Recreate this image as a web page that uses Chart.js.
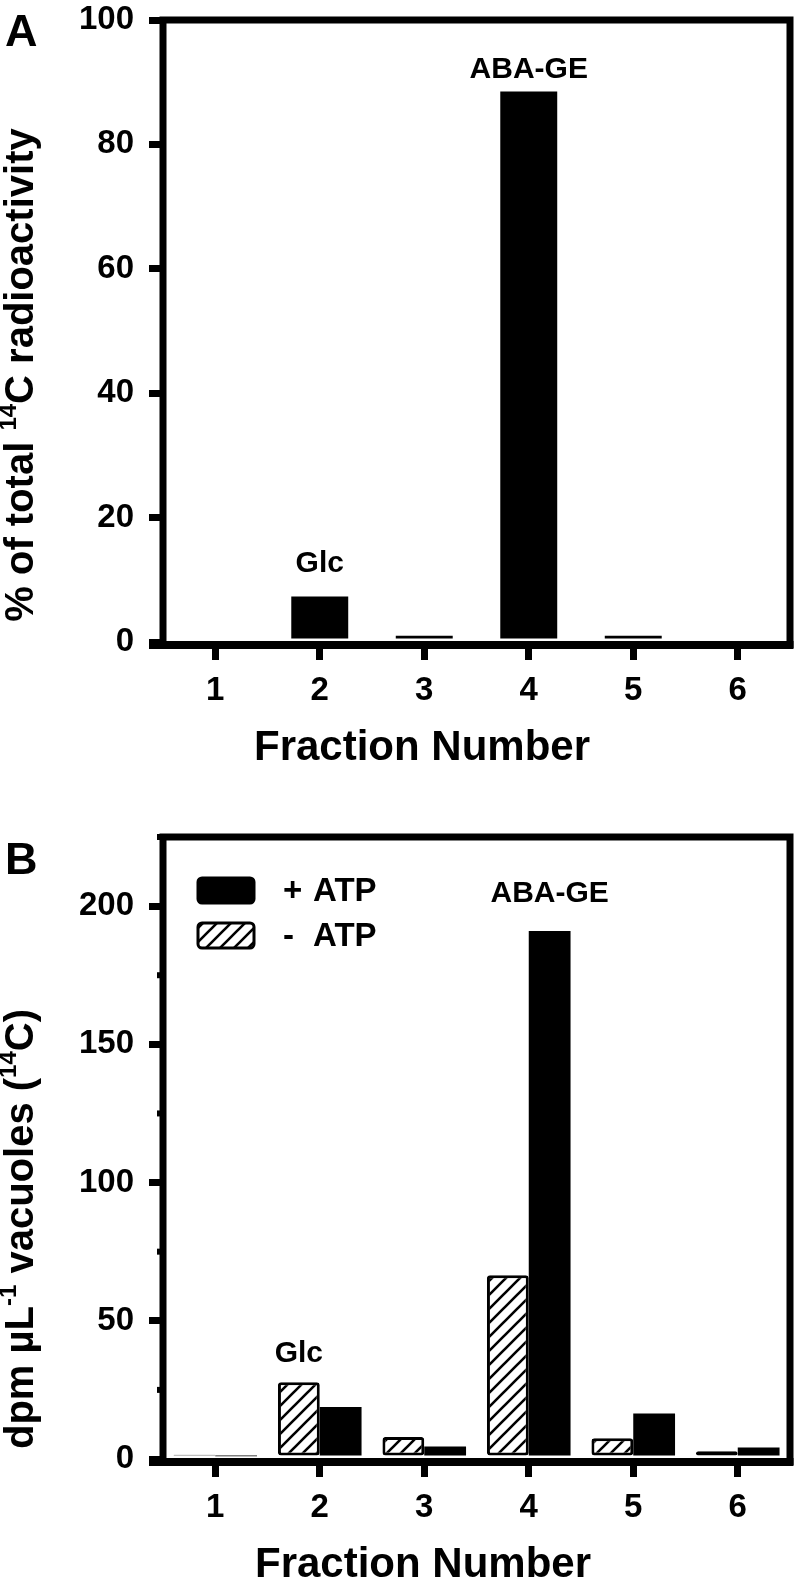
<!DOCTYPE html>
<html>
<head>
<meta charset="utf-8">
<script src="https://cdn.jsdelivr.net/npm/chart.js@4.4.1/dist/chart.umd.min.js"></script>
<style>
  html, body { margin: 0; padding: 0; background: #fff; }
  .wrap { position: absolute; left: 0; width: 798px; }
  #wrapA { top: 0; height: 790px; }
  #wrapB { top: 790px; height: 792px; }
</style>
</head>
<body>
<div class="wrap" id="wrapA"><canvas id="chartA"></canvas></div>
<div class="wrap" id="wrapB"><canvas id="chartB"></canvas></div>
<script>
// data
const fractions = ['1', '2', '3', '4', '5', '6'];
const totalPct = [0, 7.3, 1.0, 88.5, 1.0, 0];      // panel A, % of total 14C
const minusATP = [1.5, 27.8, 8.0, 66.5, 7.5, 2.8]; // panel B, hatched
const plusATP = [1.0, 18.8, 4.5, 191, 16.5, 4.2];  // panel B, black
const ticksA = [0, 20, 40, 60, 80, 100];
const ticksB = [0, 50, 100, 150, 200];
const minorB = [25, 75, 125, 175, 225];

const FONT = '"Liberation Sans", Arial, sans-serif';
const tickFont = { family: FONT, size: 33, weight: 'bold', lineHeight: 1 };

function hatchPattern(ctx) {
  const s = 14;
  const c = document.createElement('canvas');
  c.width = c.height = s;
  const g = c.getContext('2d');
  g.fillStyle = '#fff';
  g.fillRect(0, 0, s, s);
  g.strokeStyle = '#000';
  g.lineWidth = 2.6;
  g.beginPath();
  g.moveTo(-2, s + 2); g.lineTo(s + 2, -2);
  g.moveTo(-2, 2); g.lineTo(2, -2);
  g.moveTo(s - 2, s + 2); g.lineTo(s + 2, s - 2);
  g.stroke();
  return ctx.createPattern(c, 'repeat');
}

// draws text made of normal and superscript parts, centred on (0,0)
function richText(ctx, parts, size) {
  const supSize = Math.round(size * 0.6);
  let w = 0;
  parts.forEach(p => {
    ctx.font = 'bold ' + (p.sup ? supSize : size) + 'px ' + FONT;
    p.w = ctx.measureText(p.t).width;
    w += p.w;
  });
  let x = -w / 2;
  ctx.textAlign = 'left';
  ctx.textBaseline = 'middle';
  parts.forEach(p => {
    ctx.font = 'bold ' + (p.sup ? supSize : size) + 'px ' + FONT;
    ctx.fillText(p.t, x, p.sup ? -size * 0.32 : 0);
    x += p.w;
  });
}

const decor = {
  id: 'decor',
  afterDraw(chart, args, o) {
    const ctx = chart.ctx;
    const { left, top, right } = chart.chartArea;
    const ys = chart.scales.y;
    const zero = ys.getPixelForValue(0);
    ctx.save();
    ctx.strokeStyle = '#000';
    ctx.fillStyle = '#000';
    ctx.lineWidth = 7;
    ctx.beginPath();
    ctx.moveTo(left, top - 3.5); ctx.lineTo(left, zero + 6);
    ctx.moveTo(left, top); ctx.lineTo(right + 3.5, top);
    ctx.moveTo(right, top); ctx.lineTo(right, zero + 6);
    ctx.stroke();
    ctx.lineWidth = 8;
    ctx.beginPath();
    ctx.moveTo(left - 14, zero + 3); ctx.lineTo(right + 3.5, zero + 3);
    ctx.stroke();

    ctx.lineWidth = 6;
    (o.minor || []).forEach(v => {
      const py = ys.getPixelForValue(v);
      ctx.beginPath();
      ctx.moveTo(left - 6, py); ctx.lineTo(left, py);
      ctx.stroke();
    });

    // panel letter
    ctx.font = 'bold 45px ' + FONT;
    ctx.textAlign = 'left';
    ctx.textBaseline = 'alphabetic';
    ctx.fillText(o.letter, 5, o.letterY);

    // axis titles
    ctx.save();
    ctx.translate(o.xTitle[0], o.xTitle[1]);
    richText(ctx, [{ t: 'Fraction Number' }], 42);
    ctx.restore();
    ctx.save();
    ctx.translate(o.yTitle[0], o.yTitle[1]);
    ctx.rotate(-Math.PI / 2);
    richText(ctx, o.yTitleParts, 40);
    ctx.restore();

    // peak labels
    ctx.font = 'bold 30px ' + FONT;
    ctx.textAlign = 'center';
    ctx.textBaseline = 'alphabetic';
    o.notes.forEach(n => {
      const bar = chart.getDatasetMeta(n.ds).data[n.i];
      ctx.fillText(n.text, bar.x, ys.getPixelForValue(n.y));
    });

    // legend
    if (o.legend) {
      const lx = left + 35, ly = top + 41;
      o.legend.forEach((it, k) => {
        const by = ly + k * 45;
        ctx.beginPath();
        ctx.roundRect(lx, by, 56, 25, 4);
        ctx.fillStyle = it.fill;
        ctx.fill();
        ctx.lineWidth = 3;
        ctx.strokeStyle = '#000';
        ctx.stroke();
        ctx.fillStyle = '#000';
        ctx.font = 'bold 33px ' + FONT;
        ctx.textAlign = 'left';
        ctx.textBaseline = 'middle';
        ctx.fillText(it.sign, lx + 85, by + 14);
        ctx.fillText('ATP', lx + 115, by + 14);
      });
    }
    ctx.restore();
  }
};

function axisX(height) {
  return {
    grid: { offset: false, drawOnChartArea: false, drawTicks: true, tickLength: 18, lineWidth: 7, color: '#000' },
    border: { display: false },
    ticks: { color: '#000', font: tickFont, padding: 14 },
    afterFit: s => {
      s.height = height;
      s.paddingLeft = s.paddingRight = s.paddingTop = s.paddingBottom = 0;
    }
  };
}

function axisY(max, ticks) {
  return {
    min: 0, max: max,
    afterBuildTicks: s => { s.ticks = ticks.map(v => ({ value: v })); },
    grid: { drawOnChartArea: false, drawTicks: true, tickLength: 14, lineWidth: 7, color: '#000' },
    border: { display: false },
    ticks: { color: '#000', font: tickFont, padding: 15 },
    afterFit: s => {
      s.width = 163;
      s.paddingLeft = s.paddingRight = s.paddingTop = s.paddingBottom = 0;
    }
  };
}

// Panel A
new Chart(document.getElementById('chartA'), {
  type: 'bar',
  data: {
    labels: fractions,
    datasets: [{
      data: totalPct, backgroundColor: '#000', borderWidth: 0,
      categoryPercentage: 1, barPercentage: 0.545
    }]
  },
  options: {
    responsive: true, maintainAspectRatio: false, animation: false,
    layout: { padding: { top: 20, right: 8, left: 0, bottom: 0 } },
    plugins: {
      legend: { display: false }, tooltip: { enabled: false },
      decor: {
        letter: 'A', letterY: 46,
        xTitle: [422, 748],
        yTitle: [22, 375],
        yTitleParts: [{ t: '% of total ' }, { t: '14', sup: true }, { t: 'C radioactivity' }],
        notes: [
          { text: 'Glc', ds: 0, i: 1, y: 11.3 },
          { text: 'ABA-GE', ds: 0, i: 3, y: 90.6 }
        ]
      }
    },
    scales: { x: axisX(148), y: axisY(100, ticksA) }
  },
  plugins: [decor]
});

// Panel B
const ctxB = document.getElementById('chartB').getContext('2d');
const hatch = hatchPattern(ctxB);
new Chart(ctxB, {
  type: 'bar',
  data: {
    labels: fractions,
    datasets: [
      { label: '- ATP', data: minusATP, backgroundColor: hatch, borderColor: '#000', borderWidth: 3, borderRadius: 3, borderSkipped: false },
      { label: '+ ATP', data: plusATP, backgroundColor: '#000', borderWidth: 0 }
    ]
  },
  options: {
    responsive: true, maintainAspectRatio: false, animation: false,
    datasets: { bar: { categoryPercentage: 0.8, barPercentage: 1 } },
    layout: { padding: { top: 47, right: 8, left: 0, bottom: 0 } },
    plugins: {
      legend: { display: false }, tooltip: { enabled: false },
      decor: {
        letter: 'B', letterY: 84,
        minor: minorB,
        xTitle: [423, 775],
        yTitle: [22, 439],
        yTitleParts: [{ t: 'dpm µL' }, { t: '-1', sup: true }, { t: ' vacuoles (' }, { t: '14', sup: true }, { t: 'C)' }],
        notes: [
          { text: 'Glc', ds: 0, i: 1, y: 35 },
          { text: 'ABA-GE', ds: 1, i: 3, y: 201.4 }
        ],
        legend: [
          { fill: '#000', sign: '+' },
          { fill: hatch, sign: '-' }
        ]
      }
    },
    scales: { x: axisX(123), y: axisY(225, ticksB) }
  },
  plugins: [decor]
});
</script>
</body>
</html>
